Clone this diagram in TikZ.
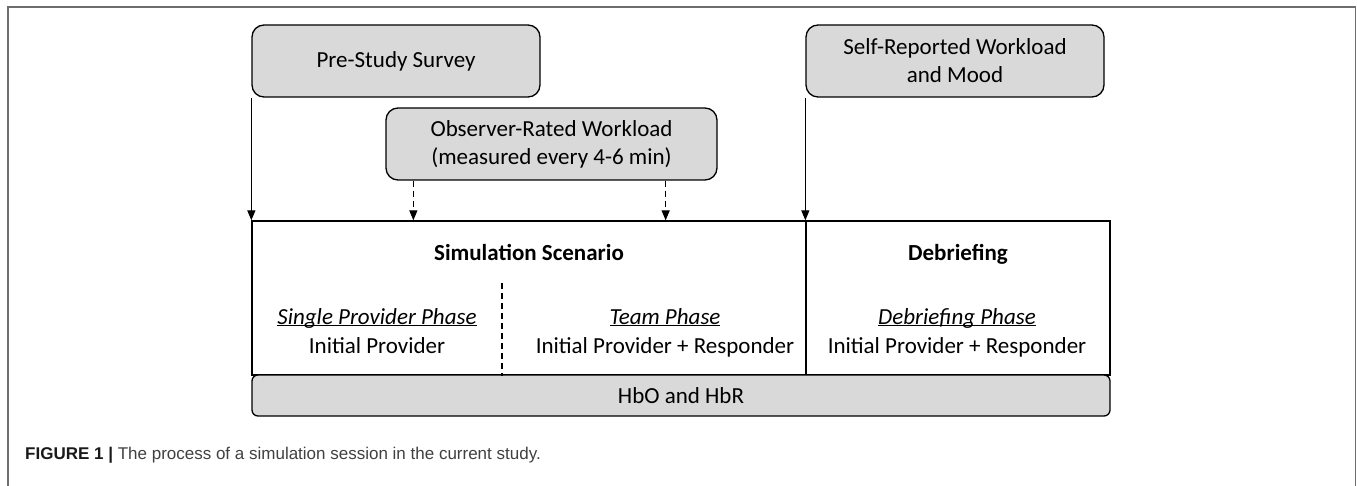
\documentclass[tikz,border=0pt]{standalone}
\usepackage{fontspec}
\setmainfont{Carlito}
\newfontfamily\capfont{Liberation Sans}
\usetikzlibrary{arrows.meta,calc}
\definecolor{boxgray}{HTML}{D9D9D9}
\definecolor{framegray}{HTML}{6E6E6E}
\begin{document}
\begin{tikzpicture}[x=1pt,y=1pt,
  every node/.style={font=\fontsize{23}{28}\selectfont, inner sep=0pt},
  topbox/.style={draw, line width=1.3pt, fill=boxgray, rounded corners=12pt, align=center},
  plainbox/.style={draw, line width=1.3pt},
  txt/.style={anchor=base},
  title/.style={anchor=base, font=\fontsize{23}{28}\selectfont\bfseries},
  arr/.style={line width=1.3pt, -{Triangle[length=10pt,width=8pt]}},
  dasharr/.style={line width=1.3pt, dash pattern=on 6pt off 4pt, -{Triangle[length=10pt,width=8pt]}},
  divider/.style={line width=1.3pt, dash pattern=on 6pt off 4pt}]
\useasboundingbox (0,0) rectangle (1357,-486);

% outer frame (open at the bottom)
\draw[framegray, line width=1.5pt] (8,-486) -- (8,-7) -- (1355.5,-7) -- (1355.5,-486);

% measurement boxes
\node[topbox, minimum width=288pt, minimum height=72pt] (pre) at (396,-61) {Pre-Study Survey};
\node[topbox, minimum width=331pt, minimum height=72pt] (obs) at (551.5,-144) {Observer-Rated Workload\\(measured every 4-6 min)};
\node[topbox, minimum width=298pt, minimum height=72pt] (self) at (955,-61) {Self-Reported Workload\\and Mood};

% session blocks
\node[plainbox, minimum width=554pt, minimum height=154pt] (sim) at (529,-298) {};
\node[plainbox, minimum width=304pt, minimum height=154pt] (deb) at (958,-298) {};
\node[draw, line width=1.3pt, fill=boxgray, rounded corners=6pt, minimum width=858pt, minimum height=41pt] (hb) at (681,-395.5) {HbO and HbR};

% block texts
\node[title] (simt) at (529,-261) {Simulation Scenario};
\node[title] (debt) at (958,-261) {Debriefing};
\node[txt] (p1) at (377,-324) {\underline{\smash{\textit{Single Provider Phase}}}};
\node[txt] (r1) at (377,-353) {Initial Provider};
\node[txt] (p2) at (665,-324) {\underline{\smash{\textit{Team Phase}}}};
\node[txt] (r2) at (665,-353) {Initial Provider + Responder};
\node[txt] (p3) at (957,-324) {\underline{\smash{\textit{Debriefing Phase}}}};
\node[txt] (r3) at (957,-353) {Initial Provider + Responder};

% phase divider
\coordinate (dtop) at (502,-283);
\draw[divider] (dtop) -- (dtop |- sim.south);

% connectors
\draw[arr] (pre.south west) -- (sim.north west);
\draw[arr] (self.south west) -- (deb.north west);
\draw[dasharr] ([xshift=28pt]obs.south west) -- ([xshift=28pt]obs.south west |- sim.north);
\draw[dasharr] ([xshift=-52pt]obs.south east) -- ([xshift=-52pt]obs.south east |- sim.north);

% caption
\node[anchor=west, text=black!75, font=\capfont\fontsize{17}{20}\selectfont] (cap) at (25,-455)
  {\textcolor{black!90}{\textbf{FIGURE 1} \textbf{|}} The process of a simulation session in the current study.};
\end{tikzpicture}
\end{document}
